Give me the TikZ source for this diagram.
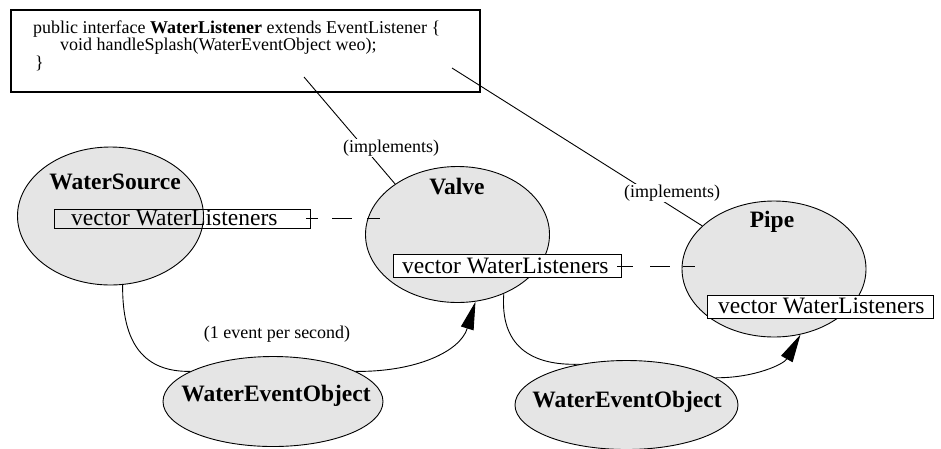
\documentclass[tikz,border=0pt]{standalone}
\usepackage{fontspec}
\setmainfont{Liberation Serif}
\usetikzlibrary{shapes.geometric,arrows.meta}
\definecolor{bubble}{HTML}{E5E5E5}
\tikzset{
  bubble/.style={ellipse,draw=black,fill=bubble,line width=0.9pt,inner sep=0pt},
  lbl/.style={font=\fontsize{23.5}{26}\selectfont\bfseries,inner sep=0pt},
  vtext/.style={font=\fontsize{23.5}{26}\selectfont,inner sep=0pt},
  smalltxt/.style={font=\fontsize{18}{20}\selectfont,inner sep=0pt},
  codetxt/.style={font=\fontsize{18}{16}\selectfont,inner sep=0pt,align=left},
  vbox/.style={draw=black,line width=0.9pt,inner sep=0pt},
  conn/.style={draw=black,line width=0.9pt},
  arr/.style={conn,-{Triangle[length=28pt,width=13pt]}},
}
\begin{document}
\begin{tikzpicture}[x=1pt,y=-1pt]
\useasboundingbox (0,0) rectangle (941,448);
% interface box
\node[draw=black,line width=1.1pt,minimum width=469pt,minimum height=82pt,inner sep=0pt] (iface) at (245.5,51) {};
\node[codetxt,anchor=base west] (code) at (33,68) {public interface \textbf{WaterListener} extends EventListener \{\\
\hspace*{27pt}void handleSplash(WaterEventObject weo);\\
\hspace*{2pt}\}};
\coordinate (i1) at (304,77);
\coordinate (i2) at (452,68);
% bubbles
\node[bubble,minimum width=186pt,minimum height=138pt] (ws) at (110.5,216) {};
\node[bubble,minimum width=184pt,minimum height=136pt] (valve) at (457.5,234.5) {};
\node[bubble,minimum width=184pt,minimum height=136pt] (pipe) at (774,269) {};
\node[bubble,minimum width=220pt,minimum height=90pt] (weo1) at (273,401.5) {};
\node[bubble,minimum width=223pt,minimum height=89pt] (weo2) at (626.5,405) {};
% bubble labels
\node[lbl,anchor=base] (wsl) at (115,189) {WaterSource};
\node[lbl,anchor=base] (valvel) at (457,194) {Valve};
\node[lbl,anchor=base] (pipel) at (772,227) {Pipe};
\node[lbl,anchor=base] (weo1l) at (276,401) {WaterEventObject};
\node[lbl,anchor=base] (weo2l) at (627,407) {WaterEventObject};
% vector boxes
\node[vbox,minimum width=256pt,minimum height=19pt] (wsbox) at (182,218.8) {};
\node[vtext,anchor=base west] (wstext) at (71,225) {vector WaterListeners};
\node[vbox,fill=white,minimum width=228pt,minimum height=23pt] (vbox) at (507,266) {};
\node[vtext,anchor=base west] (vtextn) at (402,273) {vector WaterListeners};
\node[vbox,fill=white,minimum width=226pt,minimum height=23pt] (pbox) at (820,306.5) {};
\node[vtext,anchor=base west] (ptext) at (718,313) {vector WaterListeners};
% dashed connectors
\coordinate (vin) at (380,0);
\coordinate (pin) at (695,0);
\draw[conn,dash pattern=on 12pt off 14pt on 20pt off 15pt on 13pt] ([xshift=-4pt]wsbox.east) -- (wsbox.east -| vin);
\draw[conn,dash pattern=on 16pt off 17pt on 20pt off 13pt on 12pt] ([xshift=-4pt]vbox.east) -- (vbox.east -| pin);
% implements
\draw[conn] (i1) -- (valve.141);
\draw[conn] (i2) -- (pipe.149);
\node[smalltxt,fill=white,inner sep=1pt] (imp1) at (391,148) {(implements)};
\node[smalltxt,fill=white,inner sep=1pt] (imp2) at (672,193) {(implements)};
% event curves
\draw[conn] (ws.-80) .. controls (122,345) and (145,372) .. (weo1.160);
\draw[arr] (weo1.20) .. controls (415,372) and (460,352) .. (valve.-75);
\draw[conn] (valve.-52) .. controls (500,345) and (530,366) .. (weo2.139);
\draw[arr] (weo2.17) .. controls (755,378) and (784,364) .. (pipe.-68.5);
\node[smalltxt] (rate) at (277,334) {(1 event per second)};
\end{tikzpicture}
\end{document}
